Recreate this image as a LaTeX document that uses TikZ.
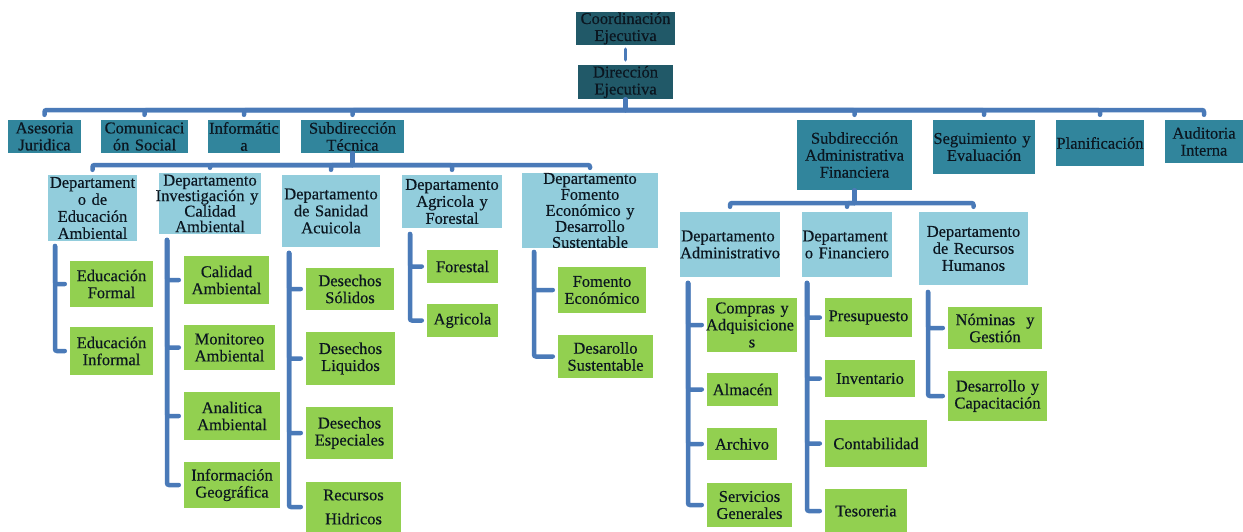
\documentclass[tikz,border=0pt]{standalone}
\usepackage{fontspec}
\setmainfont[FakeBold=0.4]{Liberation Serif}
\usetikzlibrary{calc}
\definecolor{cdark}{HTML}{215968}
\definecolor{cmid}{HTML}{31859C}
\definecolor{clight}{HTML}{92CDDC}
\definecolor{cgreen}{HTML}{92D050}
\definecolor{cline}{HTML}{4A7AB8}
\definecolor{txt}{HTML}{0B1620}
\tikzset{
  box/.style={inner sep=0pt, align=center, text=txt, font=\fontsize{16.5}{17}\selectfont},
  wh/.style 2 args={minimum width=#1pt, text width=#1pt, minimum height=#2pt},
  topbox/.style={box, fill=cdark},
  lvlbox/.style={box, fill=cmid},
  depbox/.style={box, fill=clight},
  grnbox/.style={box, fill=cgreen},
  conn/.style={draw=cline, line width=4.5pt, line cap=round, rounded corners=2pt},
}
\begin{document}
\begin{tikzpicture}[x=1pt, y=-1pt]
\useasboundingbox (0,0) rectangle (1243,531);
% top
\node[topbox, wh={99}{33}] (coord) at (625.5,28.5) {Coordinación\\Ejecutiva};
\node[topbox, wh={95}{34}] (dir) at (625.5,82) {Dirección\\Ejecutiva};
% level 2
\node[lvlbox, wh={73}{33}] (ase) at (44.5,136.5) {Asesoria\\Juridica};
\node[lvlbox, wh={87}{33}] (com) at (144.5,136.5) {Comunicaci\\ón Social};
\node[lvlbox, wh={72}{33}] (inf) at (244,136.5) {Informátic\\a};
\node[lvlbox, wh={103}{33}] (st) at (352.5,136.5) {Subdirección\\Técnica};
\node[lvlbox, wh={115}{70}] (sa) at (854.5,155) {Subdirección\\Administrativa\\Financiera};
\node[lvlbox, wh={102}{54}] (seg) at (984,147) {\hspace*{-4pt}Seguimiento y\hspace*{-4pt}\\Evaluación};
\node[lvlbox, wh={88}{46}] (pla) at (1100,143) {Planificación};
\node[lvlbox, wh={78}{43}] (aud) at (1204,141.5) {Auditoria\\Interna};
% departments (tecnica)
\node[depbox, wh={89}{66}] (d1) at (92.5,208) {Departament\\o de\\Educación\\Ambiental};
\node[depbox, wh={102}{61}, font=\fontsize{16.5}{15.5}\selectfont] (d2) at (210,203.5) {Departamento\\\hspace*{-6pt}Investigación y\hspace*{-6pt}\\Calidad\\Ambiental};
\node[depbox, wh={98}{72}] (d3) at (331,211) {Departamento\\de Sanidad\\Acuicola};
\node[depbox, wh={100}{53}] (d4) at (452,201.5) {Departamento\\Agricola y\\Forestal};
\node[depbox, wh={136}{71}, font=\fontsize{16.5}{16}\selectfont] (d5) at (590,210.5) {Departamento\\Fomento\\Económico y\\Desarrollo\\Sustentable};
% departments (admin)
\node[depbox, wh={100}{65}] (a1) at (730,244.5) {\hspace*{-4pt}Departamento\hspace*{-4pt}\\\hspace*{-4pt}Administrativo\hspace*{-4pt}};
\node[depbox, wh={90}{65}] (a2) at (847,244.5) {\hspace*{-4pt}Departament\hspace*{-4pt}\\o Financiero};
\node[depbox, wh={109}{73}] (a3) at (973.5,248.5) {Departamento\\de Recursos\\Humanos};
% green (tecnica)
\node[grnbox, wh={83}{46}] (g11) at (111.5,284) {Educación\\Formal};
\node[grnbox, wh={83}{48}] (g12) at (111.5,351) {Educación\\Informal};
\node[grnbox, wh={85}{48}] (g21) at (226.5,280) {Calidad\\Ambiental};
\node[grnbox, wh={91}{45}] (g22) at (229.5,347.5) {Monitoreo\\Ambiental};
\node[grnbox, wh={96}{48}] (g23) at (232,416) {Analitica\\Ambiental};
\node[grnbox, wh={96}{46}] (g24) at (232,485) {Información\\Geográfica};
\node[grnbox, wh={88}{42}] (g31) at (350,289) {Desechos\\Sólidos};
\node[grnbox, wh={89}{53}] (g32) at (350.5,358.5) {Desechos\\Liquidos};
\node[grnbox, wh={87}{52}] (g33) at (349.5,433) {Desechos\\Especiales};
\node[grnbox, wh={95}{50}] (g34) at (353.5,507) {Recursos\\[7pt]Hidricos};
\node[grnbox, wh={71}{33}] (g41) at (462.5,266.5) {Forestal};
\node[grnbox, wh={71}{33}] (g42) at (462.5,320.5) {Agricola};
\node[grnbox, wh={88}{46}] (g51) at (602,290) {Fomento\\Económico};
\node[grnbox, wh={95}{43}] (g52) at (605.5,356.5) {Desarollo\\Sustentable};
% green (admin)
\node[grnbox, wh={90}{54}] (h11) at (752,325) {Compras y\\\hspace*{-4pt}Adquisicione\hspace*{-4pt}\\s};
\node[grnbox, wh={71}{33}] (h12) at (742.5,389.5) {Almacén};
\node[grnbox, wh={70}{32}] (h13) at (742,444) {Archivo};
\node[grnbox, wh={85}{44}] (h14) at (749.5,505) {Servicios\\Generales};
\node[grnbox, wh={87}{39}] (h21) at (868.5,317.5) {Presupuesto};
\node[grnbox, wh={90}{37}] (h22) at (870,378.5) {Inventario};
\node[grnbox, wh={102}{47}] (h23) at (876,443.5) {Contabilidad};
\node[grnbox, wh={82}{44}] (h24) at (866,511) {Tesoreria};
\node[grnbox, wh={94}{42}] (h31) at (995,328) {Nóminas\ \ y\\Gestión};
\node[grnbox, wh={99}{50}] (h32) at (997.5,396) {Desarrollo y\\Capacitación};
% junction coordinates
\coordinate (b0) at (625.5,110);
\coordinate (bt) at (352.5,165);
\coordinate (ba) at (854.5,203);
\coordinate (v1) at (55,246);
\coordinate (v2) at (167,240);
\coordinate (v3) at (289,253);
\coordinate (v4) at (410,234);
\coordinate (v5) at (534,252);
\coordinate (w1) at (688,283);
\coordinate (w2) at (807,283);
\coordinate (w3) at (928,292);
% connectors
\draw[conn, line width=3.5pt, shorten <=4pt, shorten >=5pt] (coord.south) -- (dir.north);
\draw[conn] (dir.south) -- (b0);
\foreach \c in {ase,com,inf,st,sa,seg,pla,aud}
  \draw[conn, shorten >=5pt] (b0) -| (\c.north);
\draw[conn] (st.south) -- (bt);
\foreach \c in {d1,d2,d3,d4,d5}
  \draw[conn, shorten >=5pt] (bt) -| (\c.north);
\draw[conn] (sa.south) -- (ba);
\foreach \c in {a1,a2,a3}
  \draw[conn, shorten >=5pt] (ba) -| (\c.north);
\foreach \v/\c in {v1/g11,v1/g12,v2/g21,v2/g22,v2/g23,v2/g24,v3/g31,v3/g32,v3/g33,v3/g34,v4/g41,v4/g42,v5/g51,v5/g52,w1/h11,w1/h12,w1/h13,w1/h14,w2/h21,w2/h22,w2/h23,w2/h24,w3/h31,w3/h32}
  \draw[conn, shorten >=5pt] (\v) |- (\c.west);
\end{tikzpicture}
\end{document}
